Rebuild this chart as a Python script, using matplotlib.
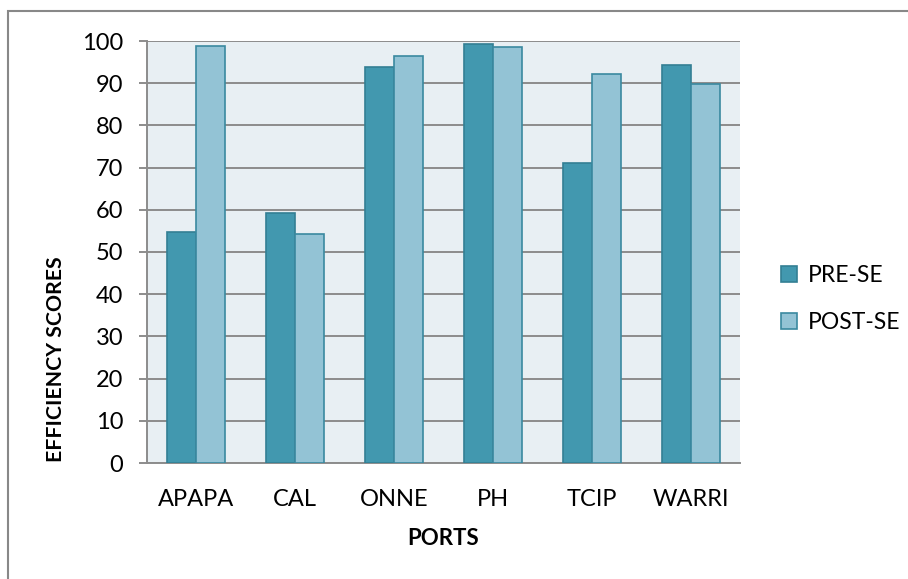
import numpy as np
import matplotlib.pyplot as plt
from matplotlib.patches import Rectangle

ports = ['APAPA', 'CAL', 'ONNE', 'PH', 'TCIP', 'WARRI']
pre_se = [54.7, 59.3, 93.8, 99.4, 71.2, 94.2]
post_se = [98.9, 54.2, 96.4, 98.6, 92.2, 89.7]
y_ticks = list(range(0, 101, 10))

plt.rcParams['font.family'] = ['Lato', 'DejaVu Sans']

fig = plt.figure(figsize=(9.08, 5.79), dpi=100)
ax = fig.add_axes([147 / 908, 1 - 463 / 579, (740 - 147) / 908, (463 - 41) / 579])

# outer chart border (only top and left visible in the reference)
fig.patches.append(Rectangle((8 / 908, -0.1), 1.2, 1.1 - 11 / 579,
                             transform=fig.transFigure, fill=False,
                             edgecolor='#888888', linewidth=1.5))

x = np.arange(len(ports))
w = 0.293
ax.set_facecolor('#E8EFF3')
ax.bar(x - w / 2, pre_se, w, color='#4298AF', edgecolor='#337F94', linewidth=1.2,
       label='PRE-SE', zorder=3)
ax.bar(x + w / 2, post_se, w, color='#93C3D5', edgecolor='#3A89A0', linewidth=1.2,
       label='POST-SE', zorder=3)

ax.set_xlim(-0.5, len(ports) - 0.5)
ax.set_ylim(0, 100)
ax.set_yticks(y_ticks)
ax.set_xticks(x)
ax.set_xticklabels(ports)
ax.yaxis.grid(True, color='#8C8C8C', linewidth=1.4, zorder=0)
ax.set_axisbelow(True)

for s in ['top', 'right']:
    ax.spines[s].set_visible(False)
ax.spines['left'].set_color('#8C8C8C')
ax.spines['left'].set_linewidth(1.4)
ax.spines['bottom'].set_color('#8C8C8C')
ax.spines['bottom'].set_linewidth(1.4)
ax.tick_params(axis='y', length=6, width=1.4, color='#8C8C8C', labelsize=17, pad=11)
ax.tick_params(axis='x', length=0, labelsize=17, pad=19)

ax.set_xlabel('PORTS', fontsize=16, fontweight='bold', labelpad=13)
ax.set_ylabel('EFFICIENCY SCORES', fontsize=15.3, fontweight='bold')
ax.yaxis.set_label_coords(-0.136, 0.246)

ax.legend(loc='center left', bbox_to_anchor=(1.035, 0.389), frameon=False,
          fontsize=16.5, handlelength=0.7, handleheight=0.7,
          handletextpad=0.45, labelspacing=1.15)

fig.savefig('out.png', dpi=100)
